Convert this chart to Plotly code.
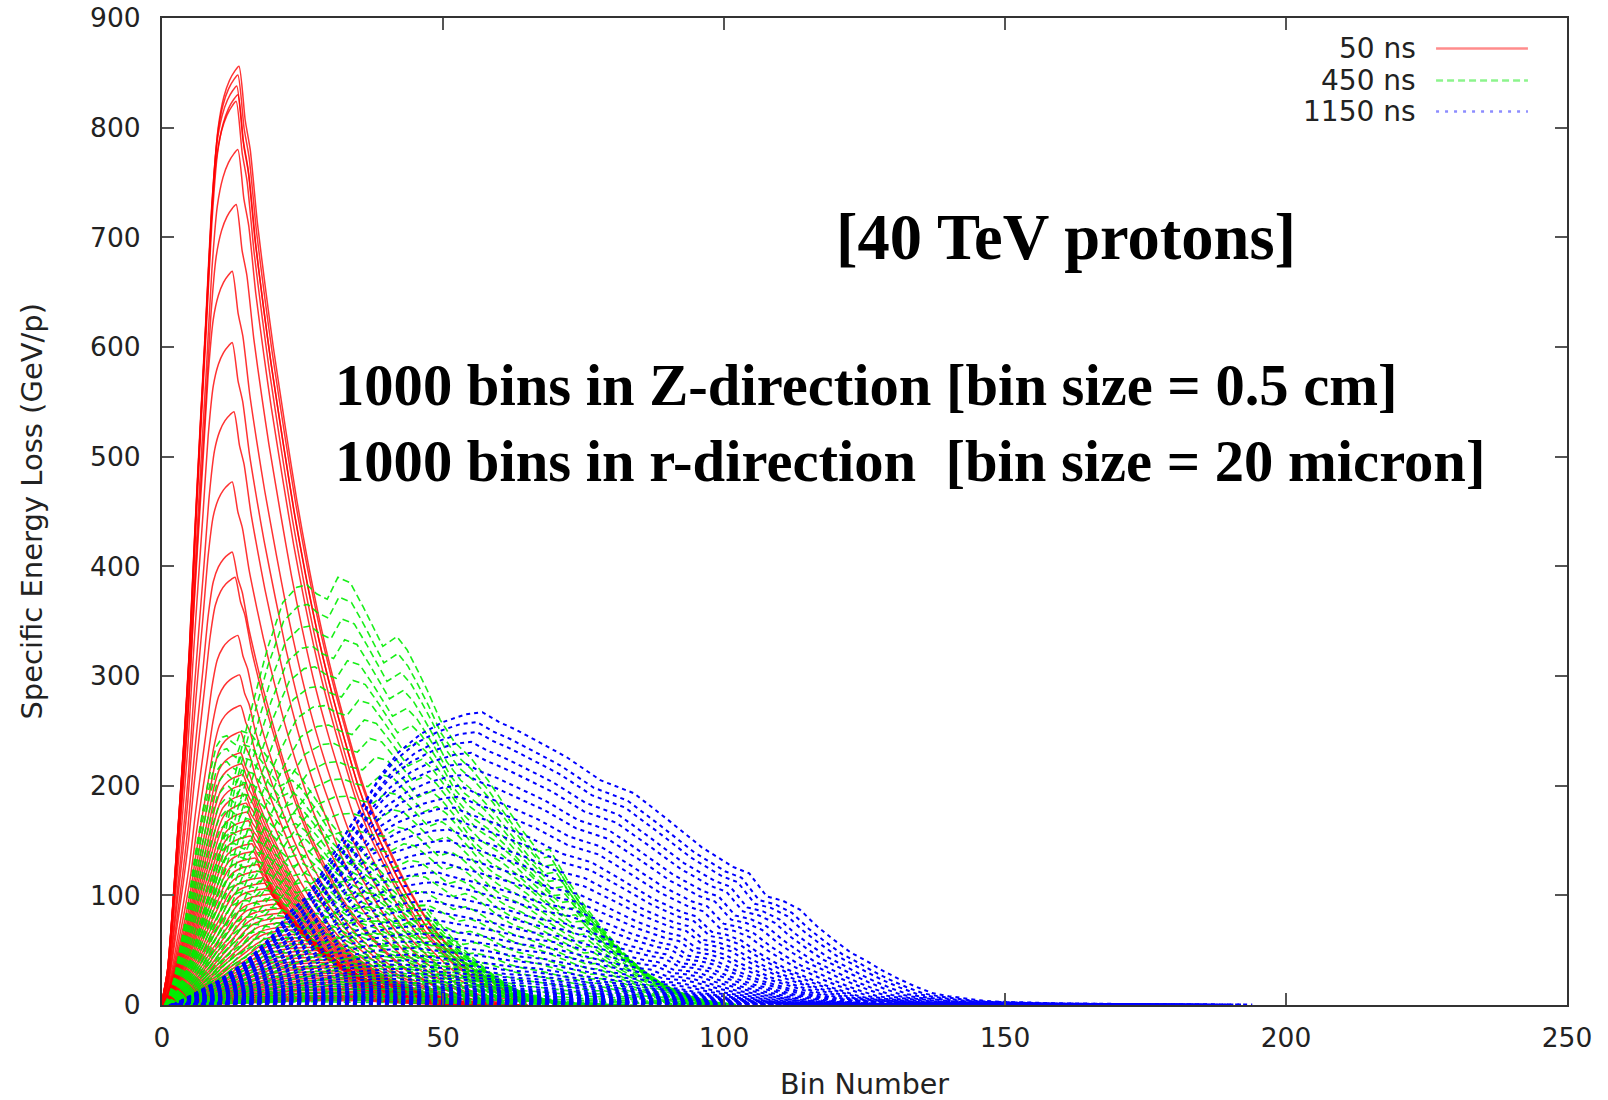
import plotly.graph_objects as go

# ---------------------------------------------------------------
# 50 ns : profile of the tallest curve (bin number, GeV/p)
# ---------------------------------------------------------------
red_profile_x = [0, 1, 2, 3, 4, 5, 6, 7, 8, 9, 10, 11, 12, 13, 13.7, 14.8, 15.7, 17, 18.5,
                 19.8, 22, 24, 26, 28.5, 31, 33.5, 35.5, 38, 40, 43, 45.5, 48, 51, 54, 58, 62, 66]
red_profile_y = [3, 32, 95, 170, 245, 330, 440, 540, 635, 735, 800, 828, 843, 852, 856, 807, 780,
                 712, 650, 600, 525, 460, 403, 340, 287, 240, 205, 170, 147, 115, 92, 72, 54, 38,
                 24, 10, 3]
# one entry per r-bin: peak height, peak bin, last bin
red_amp = [856, 848, 838, 830, 824, 780, 730, 669, 604, 541, 477, 413, 390, 337, 301, 273, 249,
           230,
           220, 210, 201, 192, 184, 176, 168, 161, 154, 147,
           140, 134, 128, 122, 116, 111, 106, 101, 96, 92,
           88, 84, 80, 76, 72, 69, 65, 62, 59, 56,
           53, 50, 47, 44, 41, 39, 36, 34, 31, 29,
           27, 25, 23, 21, 19, 17, 15, 14, 12, 11,
           9, 8, 7, 6, 5, 4]
red_peak = [13.7, 13.5, 13.3, 13.5, 13.2, 13.5, 13.2, 12.5, 12.5, 12.8, 12.5, 12.5, 13.0, 13.5,
            13.8, 14.0, 14.0, 14.0,
            14.2, 14.4, 14.6, 14.8, 15.0, 15.2, 15.4, 15.6, 15.8, 16.0,
            16.3, 16.6, 17.0, 17.4, 17.8, 18.3, 18.8, 19.4, 20.0, 20.7,
            21.4, 22.1, 22.8, 23.5, 24.2, 24.9, 25.6, 26.3, 27.0, 27.6,
            28.2, 28.7, 29.2, 29.6, 30.0, 30.4, 30.8, 31.1, 31.4, 31.7,
            32.0, 32.3, 32.6, 32.9, 33.2, 33.5, 33.8, 34.0, 34.2, 34.4,
            34.6, 34.8, 35.0, 35.2, 35.4, 35.6]
red_end = [66, 66, 65, 65, 64, 64, 63, 62, 61, 60, 60, 59, 59, 58, 58, 58, 57, 57,
           57, 57, 57, 57, 57, 57, 57, 57, 57, 57,
           56, 56, 56, 56, 56, 56, 57, 57, 57, 57,
           58, 58, 58, 58, 59, 59, 59, 60, 60, 60,
           60, 61, 61, 61, 61, 62, 62, 62, 62, 62,
           63, 63, 63, 63, 63, 64, 64, 64, 64, 64,
           65, 65, 65, 65, 65, 65]

# ---------------------------------------------------------------
# 450 ns : profile of the tallest curve
# ---------------------------------------------------------------
green_profile_x = [1, 3, 5, 7, 9, 11, 13, 15.7, 18.7, 21.5, 24, 25.8, 27.5, 29.4, 31.3, 33.5,
                   35.8, 37.5, 39.3, 41.8, 43.6, 45.5, 47.2, 49.5, 52, 55, 58, 61, 64, 67, 69,
                   72, 75, 78, 82, 86, 90, 94, 98]
green_profile_y = [0, 15, 40, 75, 115, 160, 210, 266, 324, 367, 381, 383, 375, 370, 390, 385,
                   363, 345, 327, 336, 324, 305, 287, 260, 240, 225, 205, 182, 160, 140, 142,
                   115, 92, 72, 48, 28, 14, 5, 1]
# inner r-bins (deep maximum)
green_amp_a = [390, 372, 352, 333, 314, 296, 278, 260, 243, 226, 210, 194, 178, 162, 147, 132,
               118, 104, 91, 78, 66, 55, 45, 36, 28, 21, 15, 10, 6]
green_peak_a = [31.3, 31.5, 32, 32.5, 33, 34, 35, 36, 37, 38, 39, 40, 41, 42, 43, 44, 45, 45,
                46, 46, 47, 47, 48, 48, 48, 48, 48, 48, 48]
green_end_a = [98, 98, 99, 99, 100, 100, 100, 101, 101, 101, 102, 102, 102, 102, 102, 102, 102,
               102, 102, 102, 102, 102, 102, 102, 102, 102, 102, 102, 102]
# outer r-bins (shallow maximum)
green_amp_b = [250, 238, 226, 214, 203, 192, 181, 170, 160, 150,
               140, 131, 122, 113, 105, 97, 89, 82, 75, 68,
               62, 56, 50, 45, 40, 35, 31, 27, 23, 20,
               17, 14, 11, 9, 7, 5, 3]
green_peak_b = [14, 14, 14, 14.2, 14.4, 14.6, 14.8, 15, 15.3, 15.6,
                16, 16.4, 16.8, 17.3, 17.8, 18.4, 19, 19.7, 20.4, 21.2,
                22, 22.8, 23.6, 24.4, 25.2, 26, 26.7, 27.4, 28, 28.6,
                29.2, 29.7, 30.2, 30.6, 31, 31.4, 31.8]
green_end_b = [72, 72, 72, 73, 73, 73, 74, 74, 74, 75,
               75, 75, 76, 76, 76, 77, 77, 77, 78, 78,
               78, 79, 79, 79, 80, 80, 80, 81, 81, 81,
               82, 82, 82, 83, 83, 83, 84]

# ---------------------------------------------------------------
# 1150 ns : profile of the tallest curve
# ---------------------------------------------------------------
blue_profile_x = [2, 5, 10, 15, 20, 22.5, 26, 29, 32, 35.5, 39, 42, 46, 50, 54, 57, 60, 63, 67,
                  72, 78, 84, 90, 96, 101.6, 104.5, 107.6, 110.5, 113.5, 116.5, 119.4, 122.5,
                  125.4, 128, 131, 134, 137, 140, 143, 146, 149, 155, 160, 170, 180, 194]
blue_profile_y = [0, 8, 22, 40, 65, 84, 100, 125, 150, 180, 210, 230, 247, 258, 265, 267, 258,
                  251, 240, 226, 205, 193, 169, 144, 126, 120, 99, 95, 87, 72, 60, 48, 40, 32,
                  24, 17, 11, 8, 6, 4, 3, 2, 1.5, 1, 0.7, 0.4]
blue_amp = [267, 258, 249, 240, 230, 220, 210, 200, 190, 180,
            170, 160, 150, 140, 130, 121, 112, 103, 95, 87,
            79, 72, 65, 58, 52, 46, 41, 37, 33, 30,
            27, 24, 21, 19, 17, 15, 13, 11.5, 10, 8.5,
            7.5, 6.5, 5.5, 4.5, 3.8, 3.2, 2.6, 2, 1.5, 1]
blue_peak = [57, 56, 56, 55, 55, 54, 54, 53, 53, 52,
             52, 51, 51, 50, 50, 49, 49, 48, 48, 47,
             47, 46, 46, 45, 45, 44, 44, 43, 43, 42,
             42, 41, 41, 40, 40, 40, 39, 39, 39, 38,
             38, 38, 37, 37, 37, 36, 36, 36, 35, 35]
blue_end = [194, 192, 190, 188, 186, 184, 182, 180, 178, 176,
            175, 174, 173, 172, 171, 170, 169, 168, 167, 166,
            165, 164, 163, 162, 161, 160, 160, 160, 160, 160,
            160, 160, 160, 160, 160, 160, 160, 160, 160, 160,
            160, 160, 160, 160, 160, 160, 160, 160, 160, 160]


def place(px, py, amp, peak, end):
    """Rescale a profile so that its maximum is `amp` at bin `peak` and it ends at bin `end`."""
    i0 = max(range(len(py)), key=lambda i: py[i])
    p0, a0, e0 = px[i0], py[i0], px[-1]
    xs = []
    for x in px:
        if x <= p0:
            xs.append(x * peak / p0)
        else:
            xs.append(peak + (x - p0) * (end - peak) / (e0 - p0))
    ys = [y * amp / a0 for y in py]
    return xs, ys


fig = go.Figure()


def add_family(px, py, amps, peaks, ends, color, dash, width, shape, opacity):
    for a, p, e in zip(amps, peaks, ends):
        xs, ys = place(px, py, a, p, e)
        fig.add_trace(go.Scatter(
            x=xs, y=ys, mode="lines", showlegend=False, hoverinfo="skip",
            opacity=opacity,
            line=dict(color=color, width=width, dash=dash, shape=shape,
                      smoothing=0.6 if shape == "spline" else None),
        ))


add_family(red_profile_x, red_profile_y, red_amp, red_peak, red_end,
           "#ff0000", "solid", 1.5, "spline", 0.8)
add_family(green_profile_x, green_profile_y, green_amp_a, green_peak_a, green_end_a,
           "#00ee00", "7px,4px", 1.6, "linear", 0.9)
add_family(green_profile_x, green_profile_y, green_amp_b, green_peak_b, green_end_b,
           "#00ee00", "7px,4px", 1.6, "linear", 0.9)
add_family(blue_profile_x, blue_profile_y, blue_amp, blue_peak, blue_end,
           "#0000ff", "4px,4px", 2.0, "linear", 1.0)

# ---- key (text on the left, line sample on the right) ----
legend_labels = ["50 ns", "450 ns", "1150 ns"]
legend_colors = ["rgba(255,0,0,0.45)", "rgba(0,230,0,0.45)", "rgba(0,0,255,0.45)"]
legend_dash = ["solid", "7px,4px", "3px,6px"]
legend_rows = [0.969, 0.9367, 0.9052]

annotations = []
shapes = []
for lab, col, dsh, yy in zip(legend_labels, legend_colors, legend_dash, legend_rows):
    annotations.append(dict(
        x=0.894, y=yy, xref="paper", yref="paper", text=lab, showarrow=False,
        xanchor="right", yanchor="middle",
        font=dict(family="DejaVu Sans", size=28, color="#222"),
    ))
    shapes.append(dict(
        type="line", xref="paper", yref="paper", x0=0.9068, x1=0.9722, y0=yy, y1=yy,
        line=dict(color=col, width=2.5, dash=dsh),
    ))

serif = dict(family="Liberation Serif", color="black", weight="bold")
annotations += [
    dict(x=0.6434, y=0.7775, xref="paper", yref="paper", text="[40 TeV protons]",
         showarrow=False, xanchor="center", yanchor="middle", font=dict(size=64.5, **serif)),
    dict(x=0.1217, y=0.6274, xref="paper", yref="paper",
         text="1000 bins in Z-direction [bin size = 0.5 cm]",
         showarrow=False, xanchor="left", yanchor="middle", font=dict(size=58.6, **serif)),
    dict(x=0.1217, y=0.5504, xref="paper", yref="paper",
         text="1000 bins in r-direction\u00a0 [bin size = 20 micron]",
         showarrow=False, xanchor="left", yanchor="middle", font=dict(size=58.6, **serif)),
    # axis titles
    dict(x=-0.0932, y=0.5, xref="paper", yref="paper", text="Specific Energy Loss (GeV/p)",
         showarrow=False, textangle=-90, xanchor="center", yanchor="middle",
         font=dict(family="DejaVu Sans", size=29, color="#222")),
    dict(x=0.5, y=-0.0801, xref="paper", yref="paper", text="Bin Number",
         showarrow=False, xanchor="center", yanchor="middle",
         font=dict(family="DejaVu Sans", size=28.5, color="#222")),
]

axis_style = dict(
    ticks="inside", ticklen=12, tickwidth=2, tickcolor="#555",
    showline=True, linecolor="#333", linewidth=2, mirror="allticks",
    showgrid=False, zeroline=False, automargin=False,
    tickfont=dict(family="DejaVu Sans", size=26.5, color="#222"),
)

fig.update_layout(
    width=1608, height=1100,
    margin=dict(l=162, r=41, t=18, b=95),
    plot_bgcolor="white", paper_bgcolor="white",
    showlegend=False,
    annotations=annotations, shapes=shapes,
    xaxis=dict(range=[0, 250], tickvals=[0, 50, 100, 150, 200, 250],
               ticklabelstandoff=8, **axis_style),
    yaxis=dict(range=[0, 900], tickvals=[0, 100, 200, 300, 400, 500, 600, 700, 800, 900],
               ticklabelstandoff=14, **axis_style),
)

fig.write_html("out.html")
